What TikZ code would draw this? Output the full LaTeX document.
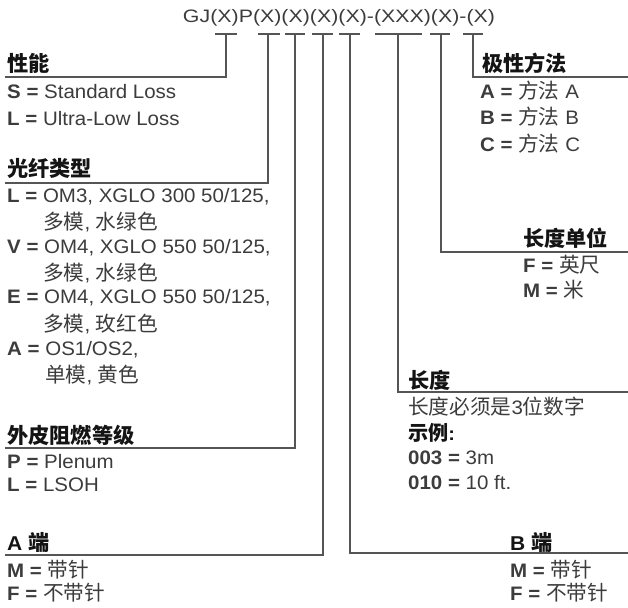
\documentclass[tikz,border=0pt]{standalone}
\usepackage{graphicx}
\usepackage{fontspec}
\setmainfont{Liberation Sans}[FakeStretch=1.05]
\newfontfamily\zhfont{Noto Sans CJK SC}[Scale=1.06]
\newcommand\zh[1]{{\zhfont #1}}
\definecolor{txt}{HTML}{3C3C3C}
\definecolor{hd}{HTML}{141414}
\definecolor{ln}{HTML}{555555}
\begin{document}
\begin{tikzpicture}[x=1pt,y=-1pt,
  lbl/.style={anchor=west, inner sep=0pt, text=txt, font=\fontsize{19.5}{22}\selectfont},
  hdr/.style={anchor=west, inner sep=0pt, text=hd, font=\fontsize{20}{22}\selectfont\bfseries},
  leg/.style={draw=ln, line width=1.3pt, line join=miter}]
\useasboundingbox (0,0) rectangle (628,607);
% title
\node[inner sep=0pt, text=txt] (title) at (339,18)
  {\resizebox{312pt}{\height}{\fontsize{18}{18}\selectfont GJ(X)P(X)(X)(X)(X)-(XXX)(X)-(X)}};
% ticks and legs: left/right of tick, center x, header line y, line end x
\foreach \i/\l/\r/\c/\y/\e in {1/215/237/226/77/5, 2/258/280/268/183/5, 3/285/305/295/448/5,
  4/312/333/323/555/5, 5/339/360/350/553/628, 6/375/422/398/392/628,
  7/430/450/441/252/628, 8/463/483/473/77/628}{
  \coordinate (ta\i) at (\l,34);
  \coordinate (tb\i) at (\r,34);
  \coordinate (tc\i) at (\c,34);
  \coordinate (tk\i) at (\c,\y);
  \coordinate (te\i) at (\e,\y);
  \draw[leg] (ta\i) -- (tb\i);
  \draw[leg] (tc\i) -- (tk\i) -- (te\i);
}
% left column
\node[hdr] (h1) at (7,63) {\zh{性能}};
\node[lbl] (s1) at (7,92) {\textbf{S =} Standard Loss};
\node[lbl] (s2) at (7,119) {\textbf{L =} Ultra-Low Loss};
\node[hdr] (h2) at (7,168) {\zh{光纤类型}};
\node[lbl] (f1) at (7,197) {\textbf{L =} OM3, XGLO 300 50/125,};
\node[lbl] (f1b) at (43,222) {\zh{多模}, \zh{水绿色}};
\node[lbl] (f2) at (7,248) {\textbf{V =} OM4, XGLO 550 50/125,};
\node[lbl] (f2b) at (43,273) {\zh{多模}, \zh{水绿色}};
\node[lbl] (f3) at (7,298) {\textbf{E =} OM4, XGLO 550 50/125,};
\node[lbl] (f3b) at (43,324) {\zh{多模}, \zh{玫红色}};
\node[lbl] (f4) at (7,350) {\textbf{A =} OS1/OS2,};
\node[lbl] (f4b) at (45,375) {\zh{单模}, \zh{黄色}};
\node[hdr] (h3) at (7,435) {\zh{外皮阻燃等级}};
\node[lbl] (j1) at (7,462) {\textbf{P =} Plenum};
\node[lbl] (j2) at (7,485) {\textbf{L =} LSOH};
\node[hdr] (h4) at (7,543) {A \zh{端}};
\node[lbl] (a1) at (7,570) {\textbf{M =} \zh{带针}};
\node[lbl] (a2) at (7,593) {\textbf{F =} \zh{不带针}};
% right column
\node[hdr] (h5) at (482,63) {\zh{极性方法}};
\node[lbl] (p1) at (480,91) {\textbf{A =} \zh{方法} A};
\node[lbl] (p2) at (480,117) {\textbf{B =} \zh{方法} B};
\node[lbl] (p3) at (480,144) {\textbf{C =} \zh{方法} C};
\node[hdr] (h6) at (523,238) {\zh{长度单位}};
\node[lbl] (u1) at (523,265) {\textbf{F =} \zh{英尺}};
\node[lbl] (u2) at (523,290) {\textbf{M =} \zh{米}};
\node[hdr] (h7) at (408,380) {\zh{长度}};
\node[lbl] (l1) at (408,407) {\zh{长度必须是}3\zh{位数字}};
\node[hdr, font=\fontsize{19}{22}\selectfont\bfseries] (l2) at (408,433) {\zh{示例}:};
\node[lbl] (l3) at (408,458) {\textbf{003 =} 3m};
\node[lbl] (l4) at (408,483) {\textbf{010 =} 10 ft.};
\node[hdr] (h8) at (510,543) {B \zh{端}};
\node[lbl] (b1) at (510,570) {\textbf{M =} \zh{带针}};
\node[lbl] (b2) at (510,593) {\textbf{F =} \zh{不带针}};
\end{tikzpicture}
\end{document}
